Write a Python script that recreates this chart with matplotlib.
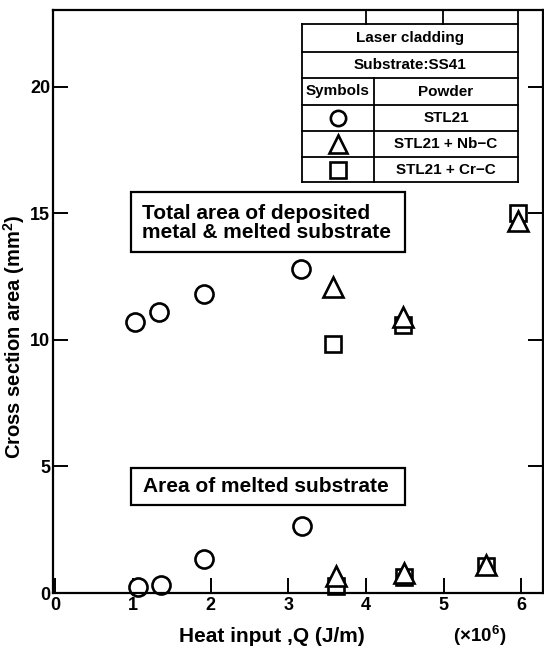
import matplotlib
matplotlib.use("Agg")
import matplotlib.pyplot as plt
from matplotlib.lines import Line2D

plt.rcParams["font.family"] = ["Liberation Sans", "DejaVu Sans"]
plt.rcParams["font.weight"] = "bold"
plt.rcParams["mathtext.default"] = "regular"

# total area of deposited metal & melted substrate (mm^2) vs heat input (x1e6 J/m)
tot_stl_x = [1.03, 1.34, 1.92, 3.17]
tot_stl_y = [10.7, 11.1, 11.8, 12.8]
tot_nbc_x = [3.58, 4.48, 5.96]
tot_nbc_y = [12.1, 10.9, 14.7]
tot_crc_x = [3.58, 4.48, 5.96]
tot_crc_y = [9.85, 10.6, 15.0]

# area of melted substrate
mel_stl_x = [1.06, 1.36, 1.92, 3.18]
mel_stl_y = [0.25, 0.33, 1.35, 2.65]
mel_nbc_x = [3.62, 4.49, 5.55]
mel_nbc_y = [0.68, 0.8, 1.1]
mel_crc_x = [3.62, 4.49, 5.55]
mel_crc_y = [0.28, 0.62, 1.05]

x_ticks = [0, 1, 2, 3, 4, 5, 6]
y_ticks = [0, 5, 10, 15, 20]
powders = ["STL21", "STL21 + Nb\u2212C", "STL21 + Cr\u2212C"]
symbols = ["o", "^", "s"]

W, H = 544, 648
fig = plt.figure(figsize=(W / 100, H / 100), dpi=100)
ax = fig.add_axes([53 / W, 1 - 593 / H, 490 / W, 583 / H])

mk = dict(mfc="white", mec="black", mew=1.9, ls="none")
for xs, ys, m, ms in [
    (tot_stl_x, tot_stl_y, "o", 13), (tot_crc_x, tot_crc_y, "s", 12), (tot_nbc_x, tot_nbc_y, "^", 14),
    (mel_stl_x, mel_stl_y, "o", 13), (mel_crc_x, mel_crc_y, "s", 12), (mel_nbc_x, mel_nbc_y, "^", 14),
]:
    ax.plot(xs, ys, marker=m, ms=ms, clip_on=False, **mk)

ax.set_xlim(-0.03, 6.28)
ax.set_ylim(0, 23.04)
ax.set_xticks(x_ticks)
ax.set_yticks(y_ticks)
for s in ax.spines.values():
    s.set_linewidth(1.6)
ax.tick_params(axis="both", direction="in", length=11, width=1.4, labelsize=13)
ax.tick_params(axis="y", right=True, pad=2)
ax.tick_params(axis="x", pad=3)

fig.text(272 / W, 1 - 637 / H, "Heat input ,Q (J/m)", ha="center", va="center", fontsize=15)
fig.text(480 / W, 1 - 636 / H, "(\u00d710$^{6}$)", ha="center", va="center", fontsize=13.5)
fig.text(14 / W, 1 - 337 / H, "Cross section area (mm$^{2}$)", rotation=90,
         ha="center", va="center", fontsize=14.5)


# pixel -> axes fraction helpers for the annotation boxes and the legend table
def fx(px):
    return (px - 53) / 490


def fy(py):
    return (593 - py) / 583


box_kw = dict(transform=ax.transAxes, fc="white", ec="black", lw=1.6, zorder=3)
ax.add_patch(plt.Rectangle((fx(131), fy(252)), fx(405) - fx(131), fy(192) - fy(252), **box_kw))
ax.add_patch(plt.Rectangle((fx(131), fy(505)), fx(405) - fx(131), fy(468) - fy(505), **box_kw))
ax.text(fx(142), fy(223), "Total area of deposited\nmetal & melted substrate", fontsize=15,
        transform=ax.transAxes, ha="left", va="center", linespacing=1.0, zorder=4)
ax.text(fx(143), fy(487), "Area of melted substrate", fontsize=15,
        transform=ax.transAxes, ha="left", va="center", zorder=4)

tl, tm, tr = fx(302), fx(374), fx(518)
rows = [24, 52, 78, 105, 131, 157, 182]
tkw = dict(transform=ax.transAxes, color="black", lw=1.3, clip_on=False)
ax.add_patch(plt.Rectangle((tl, fy(182)), tr - tl, fy(24) - fy(182), transform=ax.transAxes,
                           fc="white", ec="none", zorder=3))
for r in rows:
    ax.add_line(Line2D([tl, tr], [fy(r), fy(r)], zorder=4, **tkw))
for c, top, bot in [(tl, 24, 182), (tr, 10, 182), (tm, 78, 182), (fx(366), 10, 24), (fx(443), 10, 24)]:
    ax.add_line(Line2D([c, c], [fy(top), fy(bot)], zorder=4, **tkw))

cx = (tl + tr) / 2
tkt = dict(transform=ax.transAxes, ha="center", va="center", fontsize=11, zorder=5)
ax.text(cx, fy(38), "Laser cladding", **tkt)
ax.text(cx, fy(65), "Substrate:SS41", **tkt)
ax.text((tl + tm) / 2, fy(91.5), "Symbols", **tkt)
ax.text((tm + tr) / 2, fy(91.5), "Powder", **tkt)
for i, (p, m) in enumerate(zip(powders, symbols)):
    yc = fy((rows[3 + i] + rows[4 + i]) / 2)
    ax.text((tm + tr) / 2, yc, p, **tkt)
    ax.plot([(tl + tm) / 2], [yc], marker=m, ms=11 if m != "^" else 13, transform=ax.transAxes,
            zorder=5, clip_on=False, **mk)

fig.savefig("out.png", dpi=100)
